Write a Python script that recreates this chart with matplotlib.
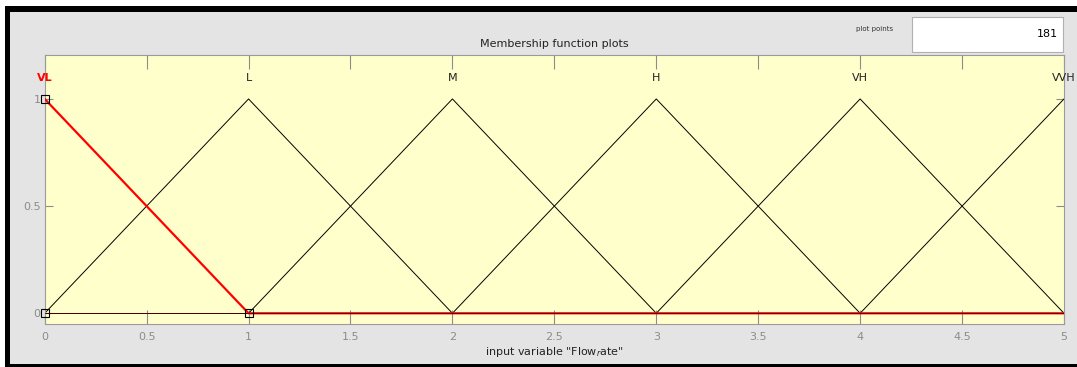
"""Membership function plot for the Flow_rate input variable."""
import matplotlib.pyplot as plt
from matplotlib.patches import Rectangle

# triangular membership functions: [left foot, peak, right foot]
MF_NAMES = ["VL", "L", "M", "H", "VH", "VVH"]
MF_PARAMS = [
    [-1.0, 0.0, 1.0],
    [0.0, 1.0, 2.0],
    [1.0, 2.0, 3.0],
    [2.0, 3.0, 4.0],
    [3.0, 4.0, 5.0],
    [4.0, 5.0, 6.0],
]
SELECTED = 0
X_RANGE = [0.0, 5.0]
X_TICKS = [0, 0.5, 1, 1.5, 2, 2.5, 3, 3.5, 4, 4.5, 5]
X_TICK_LABELS = ["0", "0.5", "1", "1.5", "2", "2.5", "3", "3.5", "4", "4.5", "5"]
Y_TICKS = [0, 0.5, 1]
Y_TICK_LABELS = ["0", "0.5", "1"]
PLOT_POINTS = 181

PANEL = "#e4e4e4"
AX_BG = "#ffffcc"
TICK_GRAY = "#8c8c8c"

fig = plt.figure(figsize=(10.77, 3.67), dpi=100, facecolor="white")

# window frame and grey panel
fig.patches.append(Rectangle((5 / 1077, 0), 1, 1 - 6 / 367,
                             transform=fig.transFigure, facecolor="black",
                             edgecolor="none", zorder=-2))
fig.patches.append(Rectangle((10 / 1077, 3 / 367), 1, 1 - 15 / 367,
                             transform=fig.transFigure, facecolor=PANEL,
                             edgecolor="none", zorder=-1))

ax = fig.add_axes([44.7 / 1077, 1 - 324 / 367, (1064 - 44.7) / 1077, (324 - 55) / 367])
ax.set_facecolor(AX_BG)

for i, (a, b, c) in enumerate(MF_PARAMS):
    if i == SELECTED:
        continue
    ax.plot([a, b, c], [0, 1, 0], color="black", linewidth=0.7, zorder=2)

# zero line from the unselected functions outside their support
ax.plot(X_RANGE, [0, 0], color="black", linewidth=0.7, zorder=2)

a, b, c = MF_PARAMS[SELECTED]
ax.plot([a, b, c, X_RANGE[1]], [0, 1, 0, 0], color="red", linewidth=1.6, zorder=3)
ax.plot(X_RANGE, [0, 0], color="#550000", linewidth=0.6, zorder=4)
ax.plot([b, b, c], [1, 0, 0], linestyle="none", marker="s", markersize=5.5,
        markerfacecolor="none", markeredgecolor="black", markeredgewidth=0.8,
        zorder=5, clip_on=False)

for i, (name, (a, b, c)) in enumerate(zip(MF_NAMES, MF_PARAMS)):
    ax.text(b, 1.1, name, ha="center", va="center", fontsize=8,
            color="red" if i == SELECTED else "#222222",
            fontweight="bold" if i == SELECTED else "normal",
            clip_on=False, zorder=6)

ax.set_xlim(X_RANGE)
ax.set_ylim(-0.05, 1.205)
ax.set_xticks(X_TICKS, X_TICK_LABELS)
ax.set_yticks(Y_TICKS, Y_TICK_LABELS)
ax.tick_params(axis="x", direction="in", length=10, width=0.8, color=TICK_GRAY,
               labelcolor=TICK_GRAY, labelsize=8, top=True, pad=6)
ax.tick_params(axis="y", direction="in", length=6, width=0.8, color=TICK_GRAY,
               labelcolor=TICK_GRAY, labelsize=8, right=True, pad=3)
for spine in ax.spines.values():
    spine.set_color("#9a9a9a")
    spine.set_linewidth(0.8)

ax.set_title("Membership function plots", fontsize=8, pad=6, color="#222222")
ax.set_xlabel('input variable "Flow$_r$ate"', fontsize=8, labelpad=2,
              color="#222222")

# plot points box
fig.text(875 / 1077, 1 - 29 / 367, "plot points", fontsize=5, ha="center",
         va="center", color="#333333")
fig.patches.append(Rectangle((912 / 1077, 1 - 52 / 367), 151 / 1077, 35 / 367,
                             transform=fig.transFigure, facecolor="white",
                             edgecolor="#b0b0b0", linewidth=0.8, zorder=1))
fig.text(1058 / 1077, 1 - 34 / 367, str(PLOT_POINTS), fontsize=8, ha="right",
         va="center", color="black")

fig.savefig("out.png", dpi=100)
